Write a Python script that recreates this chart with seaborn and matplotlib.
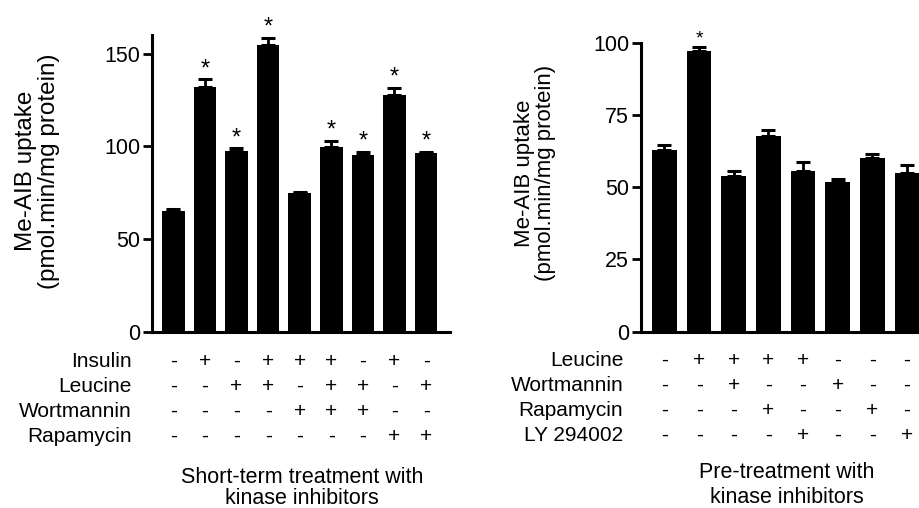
import numpy as np
import pandas as pd
import matplotlib
matplotlib.use("Agg")
import matplotlib.pyplot as plt
import matplotlib.transforms as mtransforms
import seaborn as sns

# ---------------- data ----------------
# Left panel: short-term treatment
left_factors = ["Insulin", "Leucine", "Wortmannin", "Rapamycin"]
left_insulin    = ["-", "+", "-", "+", "+", "+", "-", "+", "-"]
left_leucine    = ["-", "-", "+", "+", "-", "+", "+", "-", "+"]
left_wortmannin = ["-", "-", "-", "-", "+", "+", "+", "-", "-"]
left_rapamycin  = ["-", "-", "-", "-", "-", "-", "-", "+", "+"]
left_mean = [64.8, 132.0, 97.5, 154.5, 74.5, 99.8, 95.3, 127.6, 96.2]
left_sem  = [1.2, 4.0, 1.3, 4.0, 1.0, 3.2, 1.8, 4.0, 0.9]
left_sig  = [False, True, True, True, False, True, True, True, True]
left_yticks = [0, 50, 100, 150]
left_title = ["Short-term treatment with", "kinase inhibitors"]

# Right panel: pre-treatment
right_factors = ["Leucine", "Wortmannin", "Rapamycin", "LY 294002"]
right_leucine    = ["-", "+", "+", "+", "+", "-", "-", "-"]
right_wortmannin = ["-", "-", "+", "-", "-", "+", "-", "-"]
right_rapamycin  = ["-", "-", "-", "+", "-", "-", "+", "-"]
right_ly         = ["-", "-", "-", "-", "+", "-", "-", "+"]
right_mean = [63.1, 97.2, 53.8, 68.0, 55.8, 52.0, 60.3, 55.1]
right_sem  = [1.5, 1.4, 1.8, 2.1, 3.0, 0.9, 1.2, 2.6]
right_sig  = [False, True, False, False, False, False, False, False]
right_yticks = [0, 25, 50, 75, 100]
right_title = ["Pre-treatment with", "kinase inhibitors"]

ylabel = "Me-AIB uptake\n(pmol.min/mg protein)"

# ---------------- style ----------------
sns.set_style("ticks")
plt.rcParams["font.family"] = ["Liberation Sans", "DejaVu Sans"]
plt.rcParams["axes.linewidth"] = 2.2
for k in ("text.color", "axes.labelcolor", "xtick.color", "ytick.color",
          "axes.edgecolor"):
    plt.rcParams[k] = "black"

fig = plt.figure(figsize=(9.2, 5.08), dpi=100)
ax1 = fig.add_axes([0.1652, 0.3474, 0.3239, 0.5837])
ax2 = fig.add_axes([0.6967, 0.3474, 0.3033, 0.5673])


def draw_panel(ax, rows, factors, means, sems, sig, yticks, ylim, xlim,
               width, label_fs, label_xy, star_fs, row_baselines, row_label_x,
               title, title_x, title_baselines):
    conds = ["/".join(r[i] for r in rows) + f"#{i}" for i in range(len(means))]
    df = pd.DataFrame({"cond": conds, "uptake": means})
    sns.barplot(data=df, x="cond", y="uptake", order=conds, color="black",
                saturation=1, width=width, errorbar=None, ax=ax,
                edgecolor="black", linewidth=0)
    xs = np.arange(len(means))
    ax.errorbar(xs, means, yerr=[np.zeros(len(means)), sems], fmt="none",
                ecolor="black", elinewidth=2.0, capsize=4.8, capthick=2.2)
    for x, m, s, g in zip(xs, means, sems, sig):
        if g:
            ax.annotate("*", xy=(x, m + s), xytext=(0, 3.1),
                        textcoords="offset points", ha="center",
                        va="baseline", fontsize=star_fs, color="black")
    ax.set_ylim(*ylim)
    ax.set_xlim(*xlim)
    ax.set_yticks(yticks)
    ax.set_yticklabels([str(t) for t in yticks], fontsize=15.5)
    ax.set_xticks([])
    ax.set_xlabel("")
    ax.set_ylabel(ylabel, fontsize=label_fs, linespacing=1.05, color="black")
    ax.yaxis.label.set_va("center")
    ax.yaxis.set_label_coords(*label_xy)
    ax.tick_params(axis="y", length=6.5, width=2.0, pad=2, colors="black")
    sns.despine(ax=ax)
    for sp in ("left", "bottom"):
        ax.spines[sp].set_color("black")

    tr = mtransforms.blended_transform_factory(ax.transData, fig.transFigure)
    for r, name, b in zip(rows, factors, row_baselines):
        yf = 1 - b / 508
        fig.text(row_label_x, yf, name, ha="right", va="baseline", fontsize=15,
                 color="black")
        for x, sym in zip(xs, r):
            ax.text(x, yf, sym, transform=tr, ha="center", va="baseline",
                    fontsize=15, clip_on=False, color="black")
    for line, b in zip(title, title_baselines):
        fig.text(title_x, 1 - b / 508, line, ha="center", va="baseline",
                 fontsize=15.5, color="black")


draw_panel(ax1, [left_insulin, left_leucine, left_wortmannin, left_rapamycin],
           left_factors, left_mean, left_sem, left_sig, left_yticks,
           (0, 160), (-0.674, 8.756), 0.72, 17.5, (-0.383, 0.541), 17,
           [367, 392, 417, 442], 0.1431, left_title, 0.328, [483, 504])

draw_panel(ax2, [right_leucine, right_wortmannin, right_rapamycin, right_ly],
           right_factors, right_mean, right_sem, right_sig, right_yticks,
           (0, 100), (-0.678, 7.376), 0.707, 16, (-0.380, 0.549), 14,
           [366, 391, 416, 441], 0.6775, right_title, 0.855, [478, 503])

fig.savefig("out.png", dpi=100)
